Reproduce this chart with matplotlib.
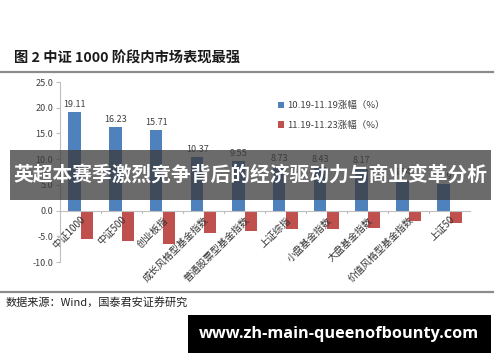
import numpy as np
import matplotlib
matplotlib.use('Agg')
from matplotlib import pyplot as plt
from matplotlib.patches import Rectangle

plt.rcParams['font.family'] = ['Noto Sans CJK SC', 'DejaVu Sans']

# Data
categories = ['中证1000', '中证500', '创业板指', '成长风格型基金指数', '普通股票型基金指数',
              '上证综指', '小盘基金指数', '大盘基金指数', '价值风格型基金指数', '上证50']
gain_1 = [19.11, 16.23, 15.71, 10.37, 9.55, 8.73, 8.43, 8.17, 5.84, 5.19]
gain_2 = [-5.5, -6.0, -6.5, -4.3, -3.9, -3.6, -3.6, -3.4, -2.1, -2.5]
series_names = ['10.19-11.19涨幅（%）', '11.19-11.23涨幅（%）']
yticks = [25.0, 20.0, 15.0, 10.0, 5.0, 0.0, -5.0, -10.0]

blue = '#4F81BD'
red = '#C0504D'

fig = plt.figure(figsize=(5.0, 3.62), dpi=100)
fig.patch.set_facecolor('white')

# title and rules
fig.text(0.028, 1 - 59/362, '图 2 中证 1000 阶段内市场表现最强', fontsize=10.3,
         fontweight='bold', va='center', ha='left', color='#1a1a1a')
fig.add_artist(plt.Line2D([0.0, 0.986], [1 - 72/362, 1 - 72/362], color='#8c8c8c', lw=1.6))
fig.add_artist(plt.Line2D([0.0, 0.986], [1 - 292/362, 1 - 292/362], color='#8c8c8c', lw=1.6))
fig.text(0.012, 1 - 302/362, '数据来源：Wind，国泰君安证券研究', fontsize=8,
         va='center', ha='left', color='#222222')

ax = fig.add_axes([0.12, 1 - 262/362, 0.82, 180/362])
# spine position first: moving it resets the ticks
ax.spines['top'].set_visible(False)
ax.spines['right'].set_visible(False)
ax.spines['bottom'].set_position(('data', 0))
ax.spines['bottom'].set_color('#bfbfbf')
ax.spines['left'].set_color('#bfbfbf')

x = np.arange(len(categories))
w = 0.3
ax.bar(x - w/2, gain_1, width=w, color=blue, label=series_names[0])
ax.bar(x + w/2, gain_2, width=w, color=red, label=series_names[1])
for xi, v in zip(x, gain_1):
    ax.text(xi - w/2, v + 0.6, '%.2f' % v, ha='center', va='bottom', fontsize=6.5, color='#404040')
for b in np.arange(0.5, len(categories) - 0.5, 1.0):
    ax.plot([b, b], [0, -0.5], color='#bfbfbf', lw=0.8, clip_on=False)

ax.set_xlim(-0.5, len(categories) - 0.5)
ax.set_ylim(-10, 25)
ax.set_yticks(yticks)
ax.set_yticklabels(['%.1f' % t for t in yticks], fontsize=6.5, color='#404040')
ax.set_xticks(x)
ax.set_xticklabels(categories, fontsize=7, color='#333333', rotation=45, ha='right',
                   va='top', rotation_mode='anchor')
ax.tick_params(axis='x', length=0, pad=3)
ax.tick_params(axis='y', length=3, color='#bfbfbf', pad=2)

leg = ax.legend(loc='upper left', bbox_to_anchor=(0.51, 0.94), frameon=False, fontsize=6.8,
                handlelength=0.7, handleheight=0.7, handletextpad=0.3, labelspacing=1.1)
for t in leg.get_texts():
    t.set_color('#404040')

# overlay banner
fig.add_artist(Rectangle((10/500, 1 - 200/362), 481/500, 50/362, transform=fig.transFigure,
                         facecolor='#3a3a3a', alpha=0.75, edgecolor='none', zorder=10))
fig.text(0.5, 1 - 175/362, '英超本赛季激烈竞争背后的经济驱动力与商业变革分析', fontsize=14.2,
         fontweight='bold', color='white', ha='center', va='center', zorder=11)

# url box
fig.add_artist(Rectangle((188/500, 1 - 353/362), 303/500, 38/362, transform=fig.transFigure,
                         facecolor='black', edgecolor='none', zorder=10))
fig.text(339/500, 1 - 334/362, 'www.zh-main-queenofbounty.com', fontsize=11.7,
         fontweight='bold', family=['Open Sans', 'DejaVu Sans'], color='white',
         ha='center', va='center', zorder=11)

fig.savefig('out.png', dpi=100)
